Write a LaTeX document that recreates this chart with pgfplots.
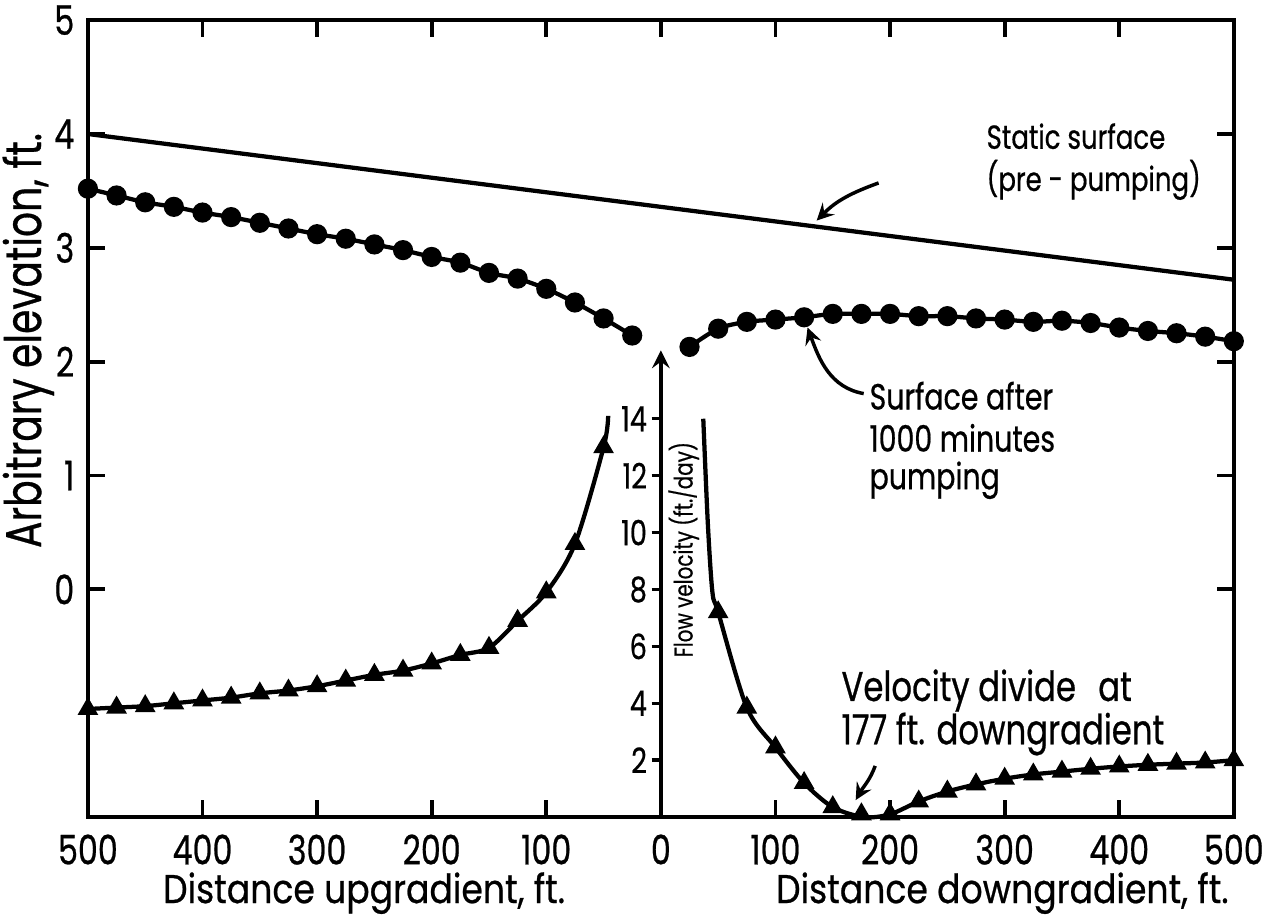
\documentclass[border=0pt]{standalone}
\usepackage{pgfplots}
\pgfplotsset{compat=1.18}
\usepackage{fontspec}
\setmainfont{Poppins}[FakeStretch=0.78, FakeBold=0.6]
\newcommand\lbl{\fontsize{10.4}{12}\selectfont\addfontfeature{FakeStretch=0.86}}
\begin{document}
\begin{tikzpicture}
\begin{axis}[name=ax, scale only axis, width=295.9pt, height=205.8pt,
  xmin=-500, xmax=500, ymin=-2, ymax=5,
  xtick={-500,-400,...,500},
  xticklabels={500,400,300,200,100,0,100,200,300,400,500},
  ytick={0,1,2,3,4,5}, yticklabels={0,1,2,3,4,5},
  tick align=inside, major tick length=4.3pt, tick pos=both,
  axis line style={line width=1.2pt},
  tick style={line width=1pt, black},
  ticklabel style={font=\fontsize{10.5}{12}\selectfont},
  xticklabel style={inner sep=0pt, yshift=-4.3pt},
  ylabel={Arbitrary elevation, ft.},
  ylabel style={at={(axis description cs:-0.052,0.598)}, anchor=center, font=\fontsize{13}{15}\selectfont},
  clip=false]
% static surface
\addplot[black, line width=1.1pt] coordinates {(-500,4.0) (500,2.72)};
% surface after pumping, upgradient
\addplot[black, line width=1.1pt, smooth, mark=*, mark size=2.05pt] coordinates {
(-500,3.52) (-475,3.46) (-450,3.40) (-425,3.36) (-400,3.31) (-375,3.27)
(-350,3.22) (-325,3.17) (-300,3.12) (-275,3.08) (-250,3.03) (-225,2.98)
(-200,2.92) (-175,2.87) (-150,2.78) (-125,2.73) (-100,2.64) (-75,2.52)
(-50,2.38) (-25,2.23)};
% surface after pumping, downgradient
\addplot[black, line width=1.1pt, smooth, mark=*, mark size=2.05pt] coordinates {
(25,2.13) (50,2.29) (75,2.35) (100,2.37) (125,2.39) (150,2.42) (175,2.42)
(200,2.42) (225,2.40) (250,2.40) (275,2.38) (300,2.37) (325,2.35) (350,2.36)
(375,2.34) (400,2.30) (425,2.27) (450,2.25) (475,2.22) (500,2.18)};
% annotations
\node[anchor=base west, font=\fontsize{8.6}{10}\selectfont, inner sep=0pt] at (axis cs:283.6,3.87) {Static surface};
\node[anchor=base west, font=\fontsize{8.6}{10}\selectfont, inner sep=0pt] at (axis cs:283.6,3.50) {(pre - pumping)};
\draw[line width=0.9pt, -stealth] (axis cs:190,3.57) to[out=200, in=45] (axis cs:136,3.24);
\node[anchor=base west, font=\fontsize{9.4}{11}\selectfont, inner sep=0pt] at (axis cs:181.5,1.58) {Surface after};
\node[anchor=base west, font=\fontsize{9.4}{11}\selectfont, inner sep=0pt] at (axis cs:181.5,1.21) {1000 minutes};
\node[anchor=base west, font=\fontsize{9.4}{11}\selectfont, inner sep=0pt] at (axis cs:181.5,0.88) {pumping};
\draw[line width=0.9pt, -stealth] (axis cs:177,1.72) to[out=170, in=-70] (axis cs:128,2.30);
\node[anchor=base west, font=\fontsize{10.7}{12}\selectfont, inner sep=0pt] at (axis cs:157,-0.98) {Velocity divide};
\node[anchor=base west, font=\fontsize{10.7}{12}\selectfont, inner sep=0pt] at (axis cs:381,-0.98) {at};
\node[anchor=base west, font=\fontsize{10.7}{12}\selectfont, inner sep=0pt] at (axis cs:157,-1.36) {177 ft. downgradient};
\draw[line width=0.9pt, -stealth] (axis cs:187,-1.55) to[out=250, in=60] (axis cs:170,-1.85);
\node[font=\lbl, inner sep=0pt, anchor=base] at (axis cs:-259,-2) [yshift=-22.2pt] {Distance upgradient, ft.};
\node[font=\lbl, inner sep=0pt, anchor=base] at (axis cs:298,-2) [yshift=-22.2pt] {Distance downgradient, ft.};
\end{axis}
\begin{axis}[at={(ax.south)}, anchor=south west, scale only axis,
  width=147.95pt, height=120.5pt,
  xmin=0, xmax=500, ymin=0, ymax=16.4,
  axis x line=none, axis y line*=left,
  y axis line style={line width=1pt, -stealth},
  ytick={2,4,...,14}, yticklabels={2,4,6,8,10,12,14},
  tick align=outside, major tick length=2.4pt,
  tick style={line width=0.9pt, black},
  yticklabel style={font=\fontsize{9}{10}\selectfont, inner sep=1pt},
  clip=false]
% flow velocity, upgradient (line)
\addplot[black, line width=1.1pt, smooth] coordinates {
(-500,3.8) (-475,3.85) (-450,3.9) (-425,4.0) (-400,4.1) (-375,4.2) (-350,4.35)
(-325,4.45) (-300,4.6) (-275,4.8) (-250,5.0) (-225,5.15) (-200,5.4) (-175,5.7)
(-150,5.95) (-125,6.9) (-100,7.9) (-75,9.6) (-50,13.0) (-46,14.1)};
\addplot[only marks, black, mark=triangle*, mark size=2.7pt] coordinates {
(-500,3.8) (-475,3.85) (-450,3.9) (-425,4.0) (-400,4.1) (-375,4.2) (-350,4.35)
(-325,4.45) (-300,4.6) (-275,4.8) (-250,5.0) (-225,5.15) (-200,5.4) (-175,5.7)
(-150,5.95) (-125,6.9) (-100,7.9) (-75,9.6) (-50,13.0)};
% flow velocity, downgradient (line)
\addplot[black, line width=1.1pt, smooth] coordinates {
(37,14.0) (41,10.3) (45,7.9) (50,7.2) (75,3.85) (100,2.45) (125,1.2) (150,0.35)
(177,0.0) (200,0.1) (225,0.55) (250,0.9) (275,1.15) (300,1.35) (325,1.5)
(350,1.6) (375,1.7) (400,1.78) (425,1.84) (450,1.88) (475,1.92) (500,2.0)};
\addplot[only marks, black, mark=triangle*, mark size=2.7pt] coordinates {
(50,7.2) (75,3.85) (100,2.45) (125,1.2) (150,0.35) (175,0.1) (200,0.1)
(225,0.55) (250,0.9) (275,1.15) (300,1.35) (325,1.5) (350,1.6) (375,1.7)
(400,1.78) (425,1.84) (450,1.88) (475,1.92) (500,2.0)};
\node[rotate=90, font=\fontsize{6.6}{8}\selectfont] at (axis cs:20,9.4) {Flow velocity (ft./day)};
\end{axis}
\pgfresetboundingbox
\path ([xshift=-22.7pt,yshift=-25.8pt]ax.south west) rectangle ([xshift=11.4pt,yshift=5.2pt]ax.north east);
\end{tikzpicture}
\end{document}
